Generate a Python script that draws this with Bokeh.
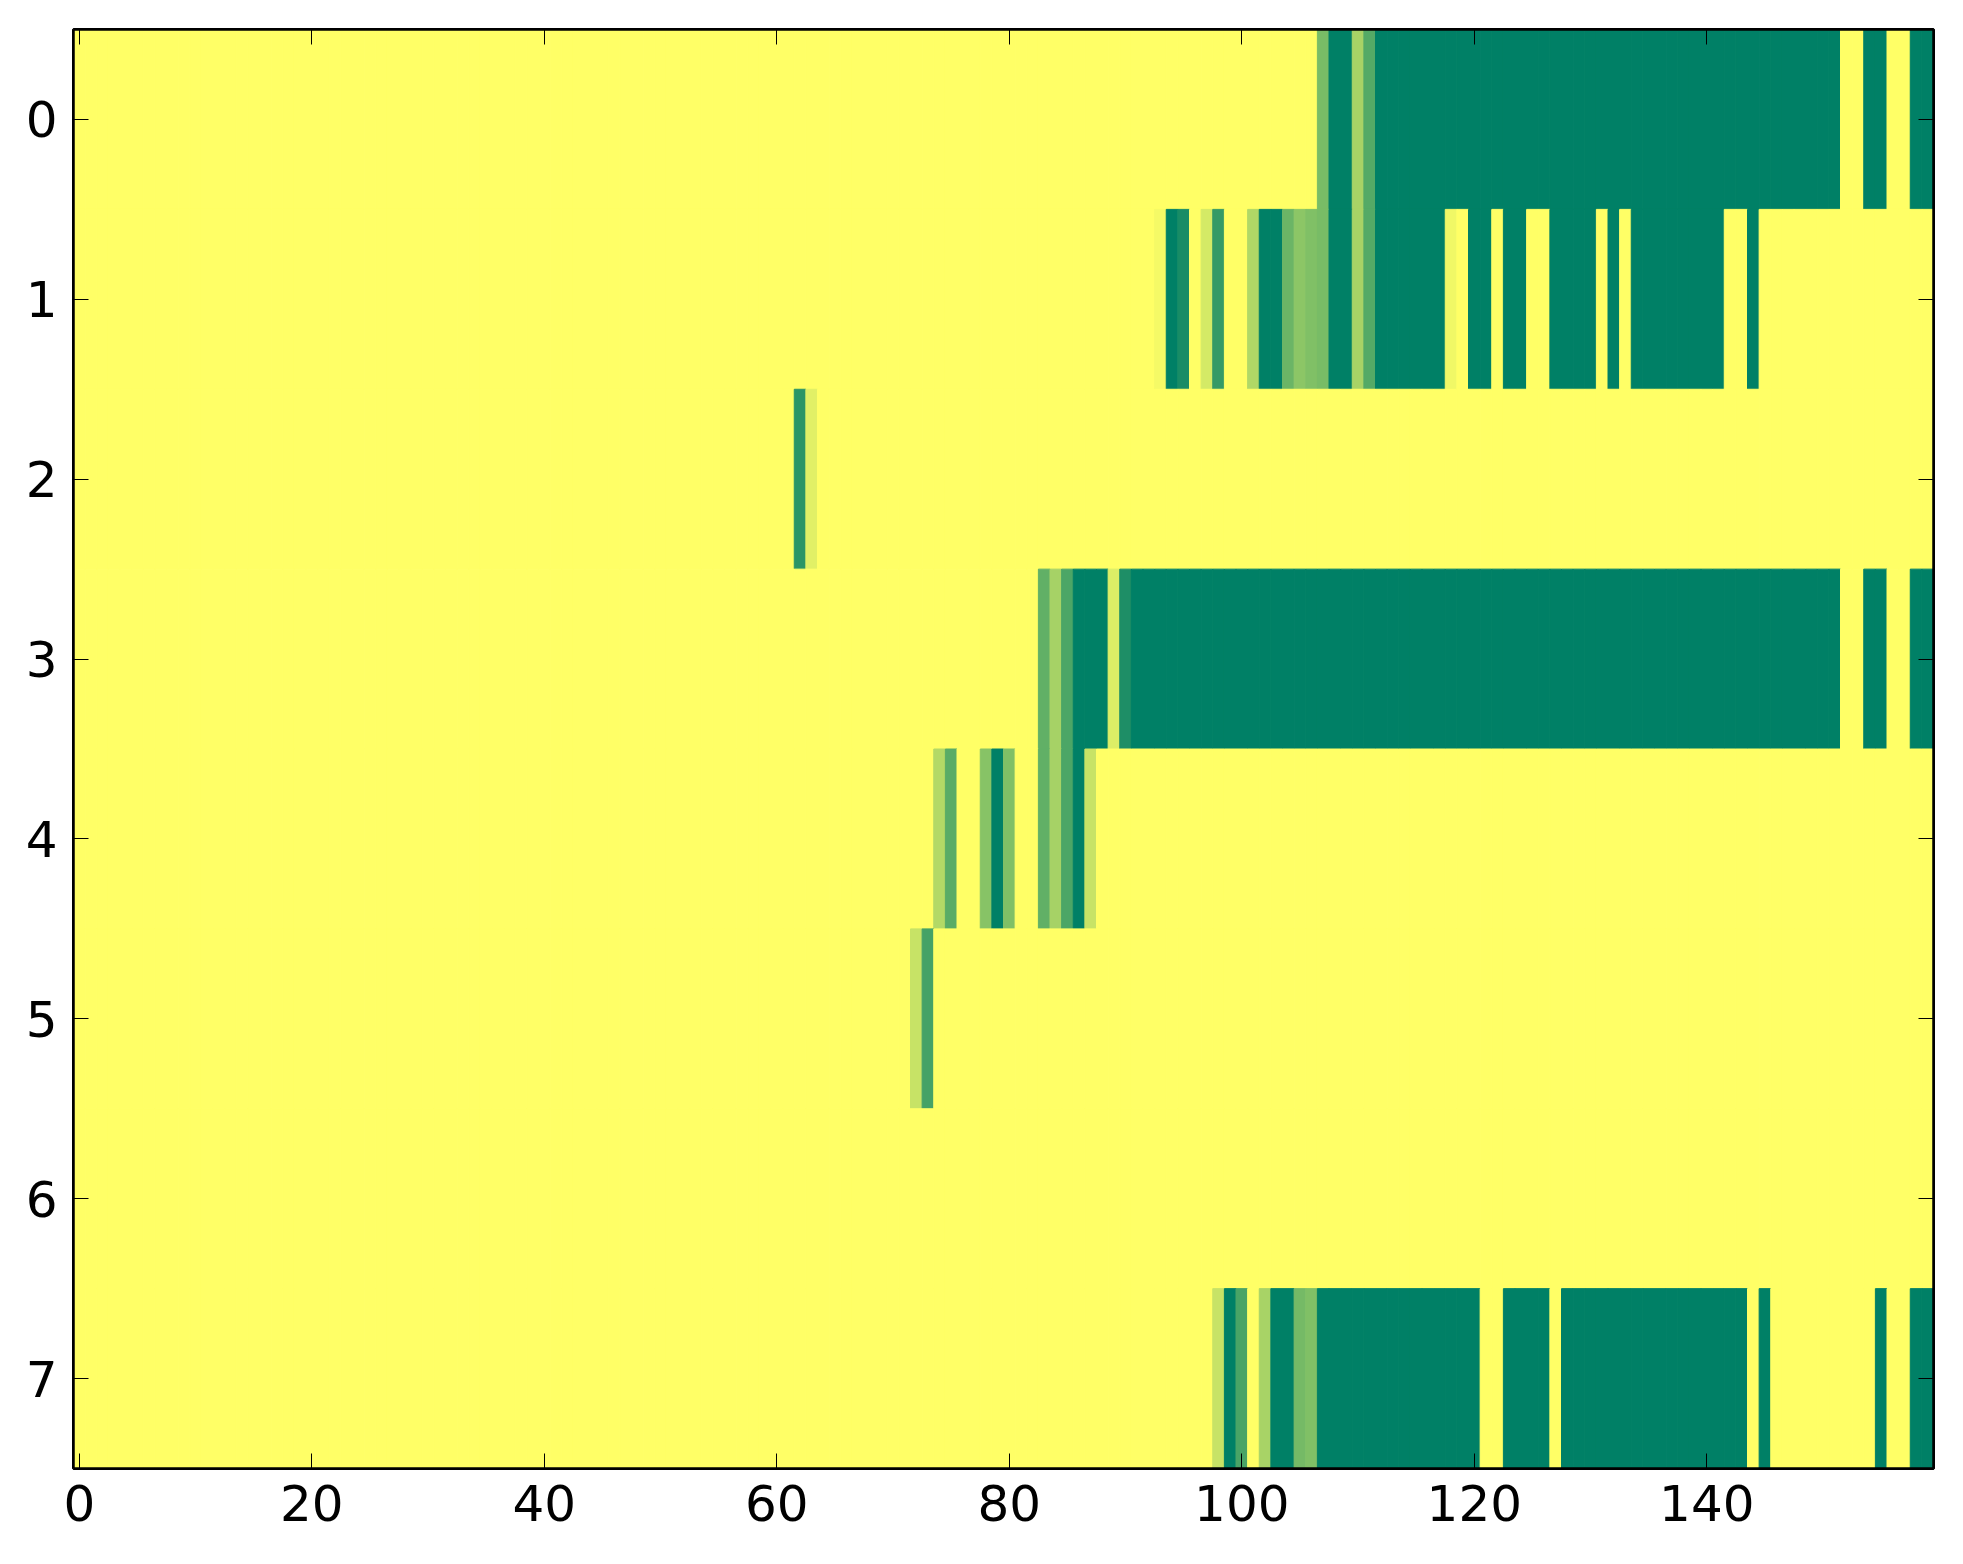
import numpy as np
from bokeh.plotting import figure
from bokeh.models import Range1d, LinearAxis, FixedTicker, ColumnDataSource
from bokeh.transform import linear_cmap
from bokeh.embed import file_html
from bokeh.resources import INLINE

# ---- data (values 0 = dark green, 1 = yellow in the 'summer' colormap) ----
row_0 = [1] * 107 + [0.47, 0, 0, 0.66, 0.33] + [0] * 40 + [1, 1, 0, 0, 1, 1, 0, 0]
row_1 = ([1] * 93 + [0.96, 0, 0.10, 1, 0.83, 0.21, 1] + [1]
         + [0.69, 0, 0, 0.42, 0.55, 0.50, 0.47, 0, 0, 0.66, 0.33]
         + [0] * 6 + [0.94, 1] + [0, 0] + [1] + [0, 0] + [1, 1] + [0] * 4
         + [1] + [0] + [1] + [0] * 8 + [1, 1] + [0] + [1] * 15)
row_2 = [1] * 62 + [0.17, 0.88] + [1] * 96
row_3 = [1] * 83 + [0.38, 0.65, 0.30, 0, 0, 0, 0.86, 0.12] + [0] * 61 + [1, 1, 0, 0, 1, 1, 0, 0]
row_4 = [1] * 74 + [0.70, 0.35, 1, 1, 0.53, 0, 0.50, 1, 1, 0.38, 0.65, 0.30, 0, 0.78] + [1] * 72
row_5 = [1] * 72 + [0.78, 0.27] + [1] * 86
row_6 = [1] * 160
row_7 = ([1] * 98 + [0.78, 0, 0.29, 1, 0.66, 0, 0, 0.46, 0.50] + [0] * 14 + [1, 1]
         + [0] * 4 + [1] + [0] * 16 + [1] + [0] + [1] * 9 + [0] + [1, 1] + [0, 0])
rows = [row_0, row_1, row_2, row_3, row_4, row_5, row_6, row_7]

x_ticks = [0, 20, 40, 60, 80, 100, 120, 140]
y_ticks = [0, 1, 2, 3, 4, 5, 6, 7]

# summer colormap
summer = ["#%02x%02x%02x" % (int(round(255 * t)), int(round(255 * (0.5 + 0.5 * t))), 102)
          for t in np.linspace(0, 1, 256)]

xs, ys, vs = [], [], []
for r, row in enumerate(rows):
    for c, v in enumerate(row):
        xs.append(c)
        ys.append(r)
        vs.append(float(v))
src = ColumnDataSource(dict(x=xs, y=ys, v=vs))

ncol = len(rows[0])
nrow = len(rows)

p = figure(frame_width=1860, frame_height=1439,
           x_range=Range1d(-0.5, ncol - 0.5), y_range=Range1d(nrow - 0.5, -0.5),
           output_backend="svg", toolbar_location=None,
           min_border_left=73, min_border_top=29, min_border_right=8, min_border_bottom=70)

cmap = linear_cmap("v", summer, 0, 1)
p.rect(x="x", y="y", width=1, height=1, source=src,
       fill_color=cmap, line_color=cmap, line_width=1)

p.grid.visible = False
p.background_fill_color = "white"
p.border_fill_color = "white"
p.outline_line_color = "black"
p.outline_line_width = 3

FONT = "DejaVu Sans"

def style(ax, ticks, show_labels, standoff):
    ax.ticker = FixedTicker(ticks=ticks, minor_ticks=[])
    ax.axis_line_color = "black"
    ax.axis_line_width = 2.5
    ax.major_tick_in = 15
    ax.major_tick_out = 0
    ax.minor_tick_in = 0
    ax.minor_tick_out = 0
    ax.major_tick_line_color = "black"
    ax.major_tick_line_width = 1
    ax.major_label_text_font = FONT
    ax.major_label_text_color = "black"
    if show_labels:
        ax.major_label_text_font_size = "50px"
        ax.major_label_standoff = standoff
    else:
        ax.major_label_overrides = {t: "" for t in ticks}
        ax.major_label_text_font_size = "1px"
        ax.major_label_standoff = 0

style(p.xaxis[0], x_ticks, True, 16)
style(p.yaxis[0], y_ticks, True, 16)

top = LinearAxis()
p.add_layout(top, "above")
style(top, x_ticks, False, 0)
right = LinearAxis()
p.add_layout(right, "right")
style(right, y_ticks, False, 0)

open("out.html", "w").write(file_html(p, INLINE))
